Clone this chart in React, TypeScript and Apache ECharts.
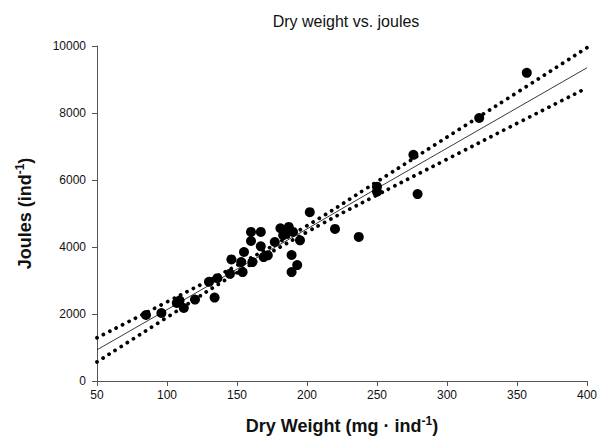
import React, { useEffect, useRef } from "react";
import * as echarts from "echarts";

// Dry weight (mg per individual) and energy content (joules per individual)
const dryWeight = [
  85, 96, 107, 109, 112, 120, 130, 134, 136, 145, 146, 153, 154, 155, 160, 160,
  161, 167, 167, 169, 172, 177, 181, 183, 185, 187, 189, 189, 190, 193, 195, 202,
  220, 237, 250, 250, 276, 279, 323, 357,
];
const joules = [
  1970, 2030, 2330, 2400, 2180, 2430, 2960, 2490, 3070, 3200, 3630, 3550, 3250,
  3850, 4450, 4180, 3550, 4450, 4020, 3700, 3750, 4150, 4560, 4350, 4420, 4600,
  3760, 3250, 4450, 3460, 4200, 5040, 4540, 4300, 5800, 5650, 6750, 5580, 7850,
  9200,
];

// Regression line and its confidence limits
const fitX = [50, 100, 150, 200, 250, 300, 350, 400];
const fitY = [930, 2130, 3340, 4540, 5750, 6950, 8150, 9350];
const upperY = [1290, 2360, 3450, 4635, 5950, 7280, 8610, 9950];
const lowerY = [570, 1900, 3230, 4445, 5550, 6620, 7690, 8750];

const xTicks = { min: 50, max: 400, interval: 50 };
const yTicks = { min: 0, max: 10000, interval: 2000 };

const pairs = (xs: number[], ys: number[]) => xs.map((x, i) => [x, ys[i]]);

export default function App() {
  const ref = useRef<HTMLDivElement>(null);

  useEffect(() => {
    if (!ref.current) return;
    const chart = echarts.init(ref.current, null, { renderer: "svg" });
    const font = "Liberation Sans, Arial, sans-serif";
    const axisColor = "#555";
    const dotted = {
      color: "#000",
      width: 3.8,
      type: [0.01, 7.2] as number[],
      cap: "round" as const,
    };
    const nameRich = {
      t: { fontFamily: font, fontSize: 18, fontWeight: "bold", color: "#111" },
      s: {
        fontFamily: font,
        fontSize: 12,
        fontWeight: "bold",
        color: "#111",
        verticalAlign: "top",
        padding: [0, 0, 9, 0],
      },
    };
    chart.setOption({
      animation: false,
      backgroundColor: "#fff",
      title: {
        text: "Dry weight vs. joules",
        left: 341,
        textAlign: "center",
        top: 8,
        textStyle: { fontFamily: font, fontSize: 16, fontWeight: "normal", color: "#111" },
      },
      grid: { left: 97, right: 12, top: 46, bottom: 61 },
      xAxis: {
        type: "value",
        ...xTicks,
        name: "{t|Dry Weight (mg · ind}{s|-1}{t|)}",
        nameLocation: "middle",
        nameGap: 34,
        nameTextStyle: { rich: nameRich },
        axisLine: { lineStyle: { color: axisColor, width: 1 } },
        axisTick: { lineStyle: { color: axisColor }, length: 5 },
        axisLabel: { fontFamily: font, fontSize: 12, color: "#111", margin: 8 },
        splitLine: { show: false },
      },
      yAxis: {
        type: "value",
        ...yTicks,
        name: "{t|Joules (ind}{s|-1}{t|)}",
        nameLocation: "middle",
        nameGap: 62,
        nameRotate: 90,
        nameTextStyle: { rich: nameRich },
        axisLine: { show: true, lineStyle: { color: axisColor, width: 1 } },
        axisTick: { show: true, lineStyle: { color: axisColor }, length: 5 },
        axisLabel: {
          fontFamily: font,
          fontSize: 12,
          color: "#111",
          margin: 11,
          formatter: (v: number) => String(v),
        },
        splitLine: { show: false },
      },
      series: [
        {
          type: "line",
          data: pairs(fitX, upperY),
          symbol: "none",
          smooth: true,
          lineStyle: dotted,
          z: 2,
        },
        {
          type: "line",
          data: pairs(fitX, lowerY),
          symbol: "none",
          smooth: true,
          lineStyle: dotted,
          z: 2,
        },
        {
          type: "line",
          data: pairs(fitX, fitY),
          symbol: "none",
          lineStyle: { color: "#222", width: 0.9 },
          z: 2,
        },
        {
          type: "scatter",
          data: pairs(dryWeight, joules),
          symbol: "circle",
          symbolSize: 10,
          itemStyle: { color: "#000", opacity: 1 },
          z: 3,
        },
      ],
    });
    return () => chart.dispose();
  }, []);

  return (
    <div
      ref={ref}
      style={{ width: 600, height: 442, position: "fixed", left: 0, top: 0 }}
    />
  );
}
